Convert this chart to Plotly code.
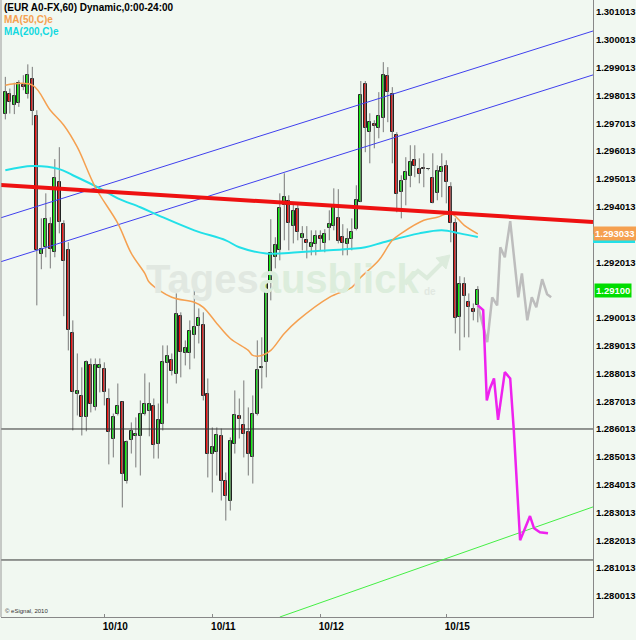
import plotly.graph_objects as go

# ---------------- data ----------------
bar_index = list(range(106))
opens = [1.29736, 1.29806, 1.29766, 1.29775, 1.29838, 1.29808, 1.29859, 1.29728, 1.29232, 1.29255,
         1.29338, 1.29237, 1.29489, 1.29338, 1.29244, 1.28945, 1.28726, 1.28719, 1.28643, 1.28830,
         1.28679, 1.28819, 1.28816, 1.28711, 1.28567, 1.28654, 1.28697, 1.28416, 1.28560, 1.28575,
         1.28575, 1.28657, 1.28665, 1.28683, 1.28549, 1.28618, 1.28837, 1.28848, 1.28798, 1.29007,
         1.28873, 1.28873, 1.28938, 1.28971, 1.28974, 1.28729, 1.28513, 1.28517, 1.28575, 1.28413,
         1.28341, 1.28549, 1.28647, 1.28614, 1.28589, 1.28499, 1.28654, 1.28819, 1.28841, 1.29129,
         1.29219, 1.29244, 1.29406, 1.29421, 1.29331, 1.29392, 1.29287, 1.29280, 1.29255, 1.29266,
         1.29295, 1.29269, 1.29323, 1.29331, 1.29359, 1.29291, 1.29266, 1.29284, 1.29320, 1.29417,
         1.29842, 1.29669, 1.29698, 1.29683, 1.29719, 1.29871, 1.29806, 1.29658, 1.29453, 1.29496,
         1.29511, 1.29568, 1.29536, 1.29539, 1.29537, 1.29503, 1.29449, 1.29525, 1.29547, 1.29471,
         1.29341, 1.29003, 1.29122, 1.29057, 1.29032, 1.29046]
highs = [1.29868, 1.29826, 1.29847, 1.29856, 1.29874, 1.29913, 1.29904, 1.29748, 1.29359, 1.29449,
         1.29363, 1.29572, 1.29615, 1.29352, 1.29273, 1.28992, 1.28873, 1.28823, 1.28848, 1.28855,
         1.28855, 1.28855, 1.28841, 1.28747, 1.28657, 1.28765, 1.28700, 1.28560, 1.28625, 1.28643,
         1.28704, 1.28801, 1.28769, 1.28711, 1.28693, 1.28902, 1.28902, 1.28873, 1.29089, 1.29021,
         1.28920, 1.28992, 1.29125, 1.29035, 1.29021, 1.28783, 1.28607, 1.28607, 1.28603, 1.28445,
         1.28571, 1.28740, 1.28711, 1.28776, 1.28679, 1.28722, 1.28920, 1.28931, 1.29133, 1.29356,
         1.29291, 1.29449, 1.29521, 1.29442, 1.29417, 1.29417, 1.29331, 1.29331, 1.29316, 1.29316,
         1.29316, 1.29320, 1.29388, 1.29467, 1.29464, 1.29338, 1.29323, 1.29359, 1.29478, 1.29853,
         1.29853, 1.29737, 1.29712, 1.29813, 1.29921, 1.29903, 1.29831, 1.29669, 1.29514, 1.29579,
         1.29622, 1.29622, 1.29575, 1.29593, 1.29539, 1.29593, 1.29550, 1.29593, 1.29568, 1.29489,
         1.29359, 1.29151, 1.29147, 1.29089, 1.29053, 1.29115]
lows = [1.29715, 1.29736, 1.29734, 1.29760, 1.29820, 1.29790, 1.29694, 1.29046, 1.29176, 1.29219,
        1.29179, 1.29219, 1.29305, 1.29007, 1.28884, 1.28596, 1.28650, 1.28578, 1.28593, 1.28661,
        1.28668, 1.28733, 1.28686, 1.28474, 1.28499, 1.28650, 1.28319, 1.28405, 1.28513, 1.28463,
        1.28434, 1.28650, 1.28575, 1.28495, 1.28495, 1.28596, 1.28693, 1.28794, 1.28765, 1.28787,
        1.28830, 1.28816, 1.28855, 1.28909, 1.28704, 1.28427, 1.28373, 1.28434, 1.28344, 1.28272,
        1.28308, 1.28513, 1.28567, 1.28499, 1.28434, 1.28405, 1.28650, 1.28747, 1.28787, 1.29064,
        1.29179, 1.29208, 1.29280, 1.29244, 1.29269, 1.29280, 1.29244, 1.29215, 1.29226, 1.29226,
        1.29244, 1.29237, 1.29280, 1.29316, 1.29269, 1.29226, 1.29226, 1.29244, 1.29316, 1.29417,
        1.29597, 1.29557, 1.29611, 1.29647, 1.29669, 1.29705, 1.29557, 1.29381, 1.29359, 1.29406,
        1.29471, 1.29507, 1.29485, 1.29471, 1.29532, 1.29413, 1.29424, 1.29435, 1.29413, 1.29273,
        1.28945, 1.28884, 1.28931, 1.28931, 1.28992, 1.28985]
closes = [1.29812, 1.29778, 1.29799, 1.29847, 1.29830, 1.29874, 1.29745, 1.29244, 1.29248, 1.29356,
          1.29248, 1.29503, 1.29345, 1.29205, 1.28956, 1.28733, 1.28737, 1.28643, 1.28841, 1.28693,
          1.28830, 1.28830, 1.28733, 1.28589, 1.28643, 1.28683, 1.28438, 1.28553, 1.28593, 1.28582,
          1.28657, 1.28690, 1.28693, 1.28542, 1.28632, 1.28841, 1.28863, 1.28809, 1.29014, 1.28877,
          1.28891, 1.28953, 1.28967, 1.29000, 1.28719, 1.28513, 1.28535, 1.28578, 1.28413, 1.28362,
          1.28557, 1.28650, 1.28636, 1.28585, 1.28513, 1.28657, 1.28812, 1.28823, 1.29129, 1.29233,
          1.29262, 1.29395, 1.29435, 1.29341, 1.29385, 1.29309, 1.29302, 1.29269, 1.29269, 1.29295,
          1.29284, 1.29302, 1.29338, 1.29403, 1.29277, 1.29269, 1.29284, 1.29309, 1.29424, 1.29802,
          1.29683, 1.29705, 1.29691, 1.29727, 1.29874, 1.29813, 1.29669, 1.29446, 1.29493, 1.29525,
          1.29561, 1.29547, 1.29518, 1.29536, 1.29535, 1.29413, 1.29529, 1.29543, 1.29489, 1.29341,
          1.29000, 1.29122, 1.29079, 1.29039, 1.29021, 1.29100]

# moving averages (read at selected bars)
ma50_x = [0, 6, 10, 13, 16, 20, 25, 28, 31, 32, 37, 42, 44, 47, 50, 54, 55, 57, 59, 62, 65, 72, 77, 79, 83, 86, 88, 93, 96, 99, 102, 105]
ma50_y = [1.29838, 1.29838, 1.29748, 1.29694, 1.29615, 1.29471, 1.29341, 1.29233, 1.29161, 1.29129,
          1.29075, 1.29057, 1.29039, 1.28981, 1.28927, 1.28884, 1.28866, 1.28866, 1.28884, 1.28945,
          1.28992, 1.29075, 1.29111, 1.29147, 1.29208, 1.29280, 1.29305, 1.29352, 1.29363, 1.29377,
          1.29334, 1.293033]
ma200_x = [0, 6, 12, 15, 21, 25, 30, 34, 42, 49, 52, 58, 65, 72, 80, 84, 92, 97, 101, 105]
ma200_y = [1.29532, 1.29547, 1.29536, 1.29514, 1.29467, 1.29431, 1.29399, 1.29370, 1.29316, 1.29280,
           1.29255, 1.29233, 1.29237, 1.29244, 1.29255, 1.29273, 1.29305, 1.29316, 1.29305, 1.29292]

# drawn lines (bar index, price)
chan_upper_x = [-1.2, 130.6]
chan_upper_y = [1.29360, 1.30033]
chan_lower_x = [-1.2, 130.6]
chan_lower_y = [1.29202, 1.29875]
red_trend_x = [-1.2, 130.6]
red_trend_y = [1.29479, 1.29346]
green_trend_x = [61.0, 130.6]
green_trend_y = [1.27925, 1.28321]
support_levels = [1.286013, 1.281301]

# projections
proj_gray_x = [105, 107.1, 108.2, 109.3, 110, 111, 112.2, 114, 114.8, 116, 117, 118, 119.3, 120.4, 121.3]
proj_gray_y = [1.29046, 1.28914, 1.29075, 1.29046, 1.29255, 1.29219, 1.29349, 1.29075, 1.29161,
               1.28992, 1.29075, 1.29039, 1.29140, 1.29086, 1.29075]
proj_mag_x = [105, 106.2, 107, 107.7, 108.6, 109.5, 111, 112.2, 113, 114.4, 115.5, 116.6, 117.5, 118.8, 120.6]
proj_mag_y = [1.29046, 1.29029, 1.28704, 1.28747, 1.28783, 1.28634, 1.28806, 1.28783, 1.28597,
              1.28201, 1.28244, 1.28288, 1.28244, 1.28230, 1.28226]

day_tick_bars = [22, 46, 70, 98]
day_tick_labels = ["10/10", "10/11", "10/12", "10/15"]
# 1.291013 and 1.293013 are hidden behind the last-value boxes in the original
price_ticks = [1.280013, 1.281013, 1.282013, 1.283013, 1.284013, 1.285013, 1.286013, 1.287013,
               1.288013, 1.289013, 1.290013, 1.292013, 1.294013, 1.295013,
               1.296013, 1.297013, 1.298013, 1.299013, 1.300013, 1.301013]

# ---------------- styling ----------------
BG = "#F1F8F1"
UP = "#11EE11"
DOWN = "#EE1111"
FONT = "Liberation Sans"

fig = go.Figure()

# wicks
wx, wy = [], []
for i, h, l in zip(bar_index, highs, lows):
    wx += [i, i, None]
    wy += [l, h, None]
fig.add_trace(go.Scatter(x=wx, y=wy, mode="lines", line=dict(color="#7a7a7a", width=1),
                         hoverinfo="skip", showlegend=False))

# bodies
base = [min(o, c) for o, c in zip(opens, closes)]
height = [max(abs(c - o), 0.000012) for o, c in zip(opens, closes)]
colors = [UP if c >= o else DOWN for o, c in zip(opens, closes)]
fig.add_trace(go.Bar(x=bar_index, y=height, base=base, width=0.72,
                     marker=dict(color=colors, line=dict(color="#222222", width=1)),
                     showlegend=False))

# horizontal support lines
for lvl in support_levels:
    fig.add_trace(go.Scatter(x=[-2, 132], y=[lvl, lvl], mode="lines",
                             line=dict(color="#333333", width=1), showlegend=False, hoverinfo="skip"))

# channel lines
fig.add_trace(go.Scatter(x=chan_upper_x, y=chan_upper_y, mode="lines",
                         line=dict(color="#4040EE", width=1), showlegend=False))
fig.add_trace(go.Scatter(x=chan_lower_x, y=chan_lower_y, mode="lines",
                         line=dict(color="#4040EE", width=1), showlegend=False))
fig.add_trace(go.Scatter(x=green_trend_x, y=green_trend_y, mode="lines",
                         line=dict(color="#44EE44", width=1), showlegend=False))

# moving averages
fig.add_trace(go.Scatter(x=ma200_x, y=ma200_y, mode="lines", line=dict(color="#22E0E8", width=2, shape="spline"),
                         showlegend=False))
fig.add_trace(go.Scatter(x=ma50_x, y=ma50_y, mode="lines", line=dict(color="#F5A050", width=1.5, shape="spline"),
                         showlegend=False))

# red trend line
fig.add_trace(go.Scatter(x=red_trend_x, y=red_trend_y, mode="lines",
                         line=dict(color="#EE1111", width=4), showlegend=False))

# projections
fig.add_trace(go.Scatter(x=proj_gray_x, y=proj_gray_y, mode="lines",
                         line=dict(color="#BDBDBD", width=2.5), showlegend=False))
fig.add_trace(go.Scatter(x=proj_mag_x, y=proj_mag_y, mode="lines",
                         line=dict(color="#EE22EE", width=2.5), showlegend=False))

W, H = 636, 640
ML, MR, MT, MB = 1, 43, 0, 23
PW, PH = W - ML - MR, H - MT - MB


def px(x):
    return (x - ML) / PW


def py(y):
    return 1 - (y - MT) / PH


annotations = [
    dict(text="<b>(EUR A0-FX,60) Dynamic,0:00-24:00</b>", x=px(2), y=py(7), xref="paper", yref="paper",
         xanchor="left", yanchor="middle", showarrow=False, font=dict(family=FONT, size=10, color="#000000")),
    dict(text="<b>MA(50,C)e</b>", x=px(2), y=py(19), xref="paper", yref="paper",
         xanchor="left", yanchor="middle", showarrow=False, font=dict(family=FONT, size=10, color="#F5A050")),
    dict(text="<b>MA(200,C)e</b>", x=px(2), y=py(31), xref="paper", yref="paper",
         xanchor="left", yanchor="middle", showarrow=False, font=dict(family=FONT, size=10, color="#11D8E0")),
    dict(text="© eSignal, 2010", x=px(3), y=py(611), xref="paper", yref="paper",
         xanchor="left", yanchor="middle", showarrow=False, font=dict(family=FONT, size=6, color="#333333")),
    # watermark
    dict(text="<b><span style='color:#E1E8E1'>Tages</span><span style='color:#DCEDDC'>ausblick</span></b>",
         x=px(282), y=py(279), xref="paper", yref="paper", xanchor="center", yanchor="middle",
         showarrow=False, font=dict(family=FONT, size=40)),
    dict(text="<b>de</b>", x=px(430), y=py(291), xref="paper", yref="paper", xanchor="center", yanchor="middle",
         showarrow=False, font=dict(family=FONT, size=10, color="#E1E8E1")),
    # last value labels
    dict(text="<b>%.6f</b>" % ma50_y[-1], x=1, y=ma50_y[-1], xref="paper", yref="y", xanchor="left",
         yanchor="middle", showarrow=False, bgcolor="#F5A050", borderpad=1,
         font=dict(family=FONT, size=9.5, color="#FFFFFF")),
    dict(text="<b>%.5f</b>" % closes[-1], x=1, y=closes[-1], xref="paper", yref="y", xanchor="left",
         yanchor="middle", showarrow=False, bgcolor="#00DD00", borderpad=1, xshift=1,
         font=dict(family=FONT, size=9.5, color="#FFFFFF")),
]

shapes = [
    dict(type="path", xref="paper", yref="paper",
         path="M %f %f L %f %f L %f %f L %f %f" % (px(405), py(284), px(418), py(271), px(427), py(278), px(443), py(262)),
         line=dict(color="#DCEBDC", width=4)),
    dict(type="path", xref="paper", yref="paper",
         path="M %f %f L %f %f L %f %f Z" % (px(436), py(258), px(450), py(255), px(446), py(269)),
         fillcolor="#DCEBDC", line=dict(color="#DCEBDC", width=1)),
    dict(type="line", xref="paper", yref="paper", x0=0, x1=0, y0=0, y1=1,
         line=dict(color="#9a9a9a", width=1)),
    # MA(200) last-value box peeking out under the MA(50) box
    dict(type="rect", xref="paper", yref="y", x0=1.0, x1=1 + 42 / PW,
         y0=ma200_y[-1] - 0.00022, y1=ma200_y[-1] + 0.00010,
         fillcolor="#22E0E8", line=dict(width=0), layer="above"),
]

fig.update_layout(
    width=W, height=H,
    margin=dict(l=ML, r=MR, t=MT, b=MB),
    paper_bgcolor=BG, plot_bgcolor=BG,
    showlegend=False, bargap=0,
    annotations=annotations, shapes=shapes,
    font=dict(family=FONT, size=10, color="#000000"),
)
fig.update_xaxes(range=[-0.96, 130.6], tickvals=day_tick_bars, ticktext=day_tick_labels,
                 showgrid=False, zeroline=False, showline=True, linecolor="#888888", linewidth=1,
                 ticks="inside", ticklen=3, tickcolor="#888888", ticklabelshift=11,
                 tickfont=dict(family=FONT, size=10, color="#000000", weight="bold"))
fig.update_yaxes(range=[1.279250, 1.301445], side="right", tickvals=price_ticks,
                 ticktext=["%.6f" % v for v in price_ticks],
                 showgrid=False, zeroline=False, showline=True, linecolor="#888888", linewidth=1,
                 ticks="",
                 tickfont=dict(family=FONT, size=9.5, color="#000000", weight="bold"))

fig.write_html("out.html", config={"displayModeBar": False},
               post_script="document.body.style.margin='0px';document.body.style.overflow='hidden';")
